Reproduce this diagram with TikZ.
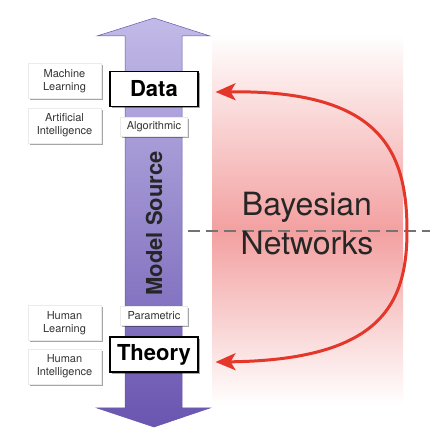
\documentclass[tikz,border=0pt]{standalone}
\usepackage{fontspec}
\setmainfont{TeX Gyre Heros}
\usetikzlibrary{arrows.meta, positioning, calc, shadows}

\definecolor{bnred}{HTML}{E5362A}
\definecolor{bandred}{HTML}{F3A0A0}
\definecolor{srctop}{HTML}{C2BAE8}
\definecolor{srcbot}{HTML}{6A55B0}
\definecolor{srcedge}{HTML}{6656A8}
\definecolor{labtext}{HTML}{333333}

\begin{document}
\begin{tikzpicture}[
    x=1pt, y=1pt,
    >=Stealth,
    boxshadow/.style = {drop shadow={shadow xshift=1.8pt, shadow yshift=-1.8pt, fill=black, opacity=0.35}},
    mainbox/.style = {draw, fill=white, line width=1.1pt, minimum width=88pt, minimum height=35pt, inner sep=0pt, font={\fontsize{22}{26}\selectfont\bfseries}, boxshadow},
    tagbox/.style = {fill=white, draw=black!8, minimum width=67pt, minimum height=19pt, inner sep=0pt, text=labtext, font={\fontsize{11}{13}\selectfont}, boxshadow},
    sidebox/.style = {fill=white, draw=black!8, minimum width=73pt, minimum height=35pt, inner sep=0pt, align=center, text=labtext, font={\fontsize{11}{13}\selectfont}, boxshadow},
    bigtext/.style = {align=center, text=black!85, font={\fontsize{32}{39}\selectfont}},
    bnarrow/.style = {{Stealth[length=20pt, width=17pt, inset=5pt]}-{Stealth[length=20pt, width=17pt, inset=5pt]}, line width=3pt, bnred},
    midline/.style = {black!55, line width=1.4pt, dash pattern=on 12pt off 6pt}
]
\useasboundingbox (0,0) rectangle (430,440);

% =========================================================
% BACKGROUND: Bayesian band and dashed middle line
% =========================================================
\shade[top color=white, bottom color=bandred] (212,209) rectangle (403,407);
\shade[top color=bandred, bottom color=white] (212,35) rectangle (403,209.2);
\coordinate (mid_l) at (188,209);
\coordinate (mid_r) at (430,209);
\draw[midline] (mid_l) -- (mid_r);

% =========================================================
% MODEL SOURCE double arrow
% =========================================================
\shade[top color=srctop, bottom color=srcbot, draw=srcedge, line width=0.5pt]
    (125,404) -- (97,404) -- (154,422) -- (210,404) -- (182,404)
    -- (182,32) -- (210,32) -- (154,13) -- (97,32) -- (125,32) -- cycle;
\node[rotate=90, text=black!85, font={\fontsize{22}{26}\selectfont\bfseries}] (src) at (154,216.5) {Model Source};

% =========================================================
% TOP: Data side
% =========================================================
\node[mainbox] (data) at (154,351) {Data};
\node[tagbox, below=10pt of data] (algo) {Algorithmic};
\node[sidebox] (ml) at (64.5,359) {Machine\\Learning};
\node[sidebox, below=9pt of ml] (ai) {Artificial\\Intelligence};

% =========================================================
% BOTTOM: Theory side
% =========================================================
\node[mainbox] (theory) at (154,85.5) {Theory};
\node[tagbox, above=11pt of theory] (param) {Parametric};
\node[sidebox] (hl) at (64.5,117) {Human\\Learning};
\node[sidebox, below=8pt of hl] (hi) {Human\\Intelligence};

% =========================================================
% BAYESIAN NETWORKS: label and two-way arrow
% =========================================================
\node[bigtext] (bn) at (307,216) {Bayesian\\Networks};

\coordinate (bn_top) at ($(data.east)+(17,-3)$);
\coordinate (bn_bot) at ($(theory.east)+(17,-7.5)$);
\coordinate (bn_turn) at (407,209);
\draw[bnarrow] (bn_top) .. controls (380,350) and (407,290) .. (bn_turn)
               .. controls (407,135) and (380,80) .. (bn_bot);

\end{tikzpicture}
\end{document}
